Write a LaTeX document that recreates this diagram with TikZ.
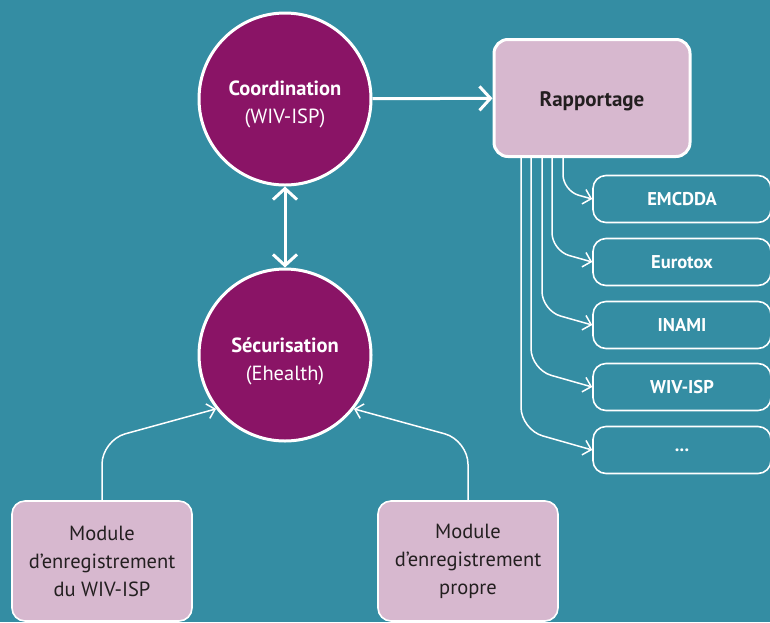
\documentclass[tikz,border=0pt]{standalone}
\usepackage{fontspec}
\setmainfont{PT Sans}
\usetikzlibrary{arrows.meta}
\definecolor{bgteal}{RGB}{52,141,163}
\definecolor{plum}{RGB}{138,20,102}
\definecolor{lilac}{RGB}{215,184,207}
\definecolor{ink}{RGB}{35,31,32}
\newcommand{\lowerby}[1]{\rule{0pt}{#1}}

\begin{document}
\begin{tikzpicture}[x=1pt,y=-1pt,
  hub/.style={circle,draw=white,line width=3pt,fill=plum,minimum size=172pt,
    inner sep=0pt,text=white,align=center,font=\fontsize{20.5}{28}\selectfont},
  report/.style={rectangle,rounded corners=14pt,draw=white,line width=3pt,fill=lilac,
    minimum width=196pt,minimum height=117pt,text=ink,font=\bfseries\fontsize{21}{24}\selectfont},
  target/.style={rectangle,rounded corners=13pt,draw=white,line width=1.6pt,
    minimum width=178pt,minimum height=47pt,text=white,font=\bfseries\fontsize{18.5}{21}\selectfont},
  module/.style={rectangle,rounded corners=13pt,draw=white,line width=1.6pt,fill=lilac,
    minimum width=180pt,minimum height=120pt,text=ink,align=center,
    font=\fontsize{20.5}{28}\selectfont},
  bigarrow/.style={white,line width=3pt,-{Straight Barb[length=11pt,width=24pt]}},
  link/.style={white,line width=1.5pt,-{Straight Barb[length=7.5pt,width=15pt]}}]

  %background
  \useasboundingbox (0,0) rectangle (770,622);
  \fill[bgteal] (0,0) rectangle (770,622);

  %the two circles
  \node[hub] (coord) at (285,99) {\lowerby{26pt}\textbf{Coordination}\\(WIV-ISP)};
  \node[hub] (secu) at (285,355) {\lowerby{27pt}\textbf{Sécurisation}\\(Ehealth)};

  %reporting box and its targets
  \node[report] (rap) at (592,98) {\lowerby{22pt}Rapportage};
  \node[target] (emcdda) at (682,199) {EMCDDA};
  \node[target] (eurotox) at (682,262) {Eurotox};
  \node[target] (inami) at (682,325) {INAMI};
  \node[target] (wivisp) at (682,387) {WIV-ISP};
  \node[target] (etc) at (682,450) {...};

  %registration modules
  \node[module] (modwiv) at (102,561) {Module\\d’enregistrement\\du WIV-ISP};
  \node[module] (modown) at (468,561) {Module\\d’enregistrement\\propre};

  %main arrows
  \draw[bigarrow] (coord) -- (rap);
  \draw[bigarrow,{Straight Barb[length=11pt,width=24pt]}-{Straight Barb[length=11pt,width=24pt]}] (coord) -- (secu);

  %reporting lines
  \foreach \b/\dx in {emcdda/70.5,eurotox/59.5,inami/49.5,wivisp/38.5,etc/28.5} {
    \pgfmathsetmacro\up{0.29*(98.5-\dx)}
    \pgfmathsetmacro\rad{12+0.15*(98.5-\dx)}
    \draw[link,rounded corners=\rad pt] ([xshift=\dx pt]rap.south west)
      -- ([xshift=\dx pt,yshift=\up pt]rap.south west |- \b.west) -- (\b.west);
  }

  %module lines
  \draw[link,rounded corners=24pt] (modwiv.north) -- ([yshift=60pt]modwiv.north) -- (secu.218);
  \draw[link,rounded corners=24pt] (modown.north) -- ([yshift=60pt]modown.north) -- (secu.322);
\end{tikzpicture}
\end{document}
